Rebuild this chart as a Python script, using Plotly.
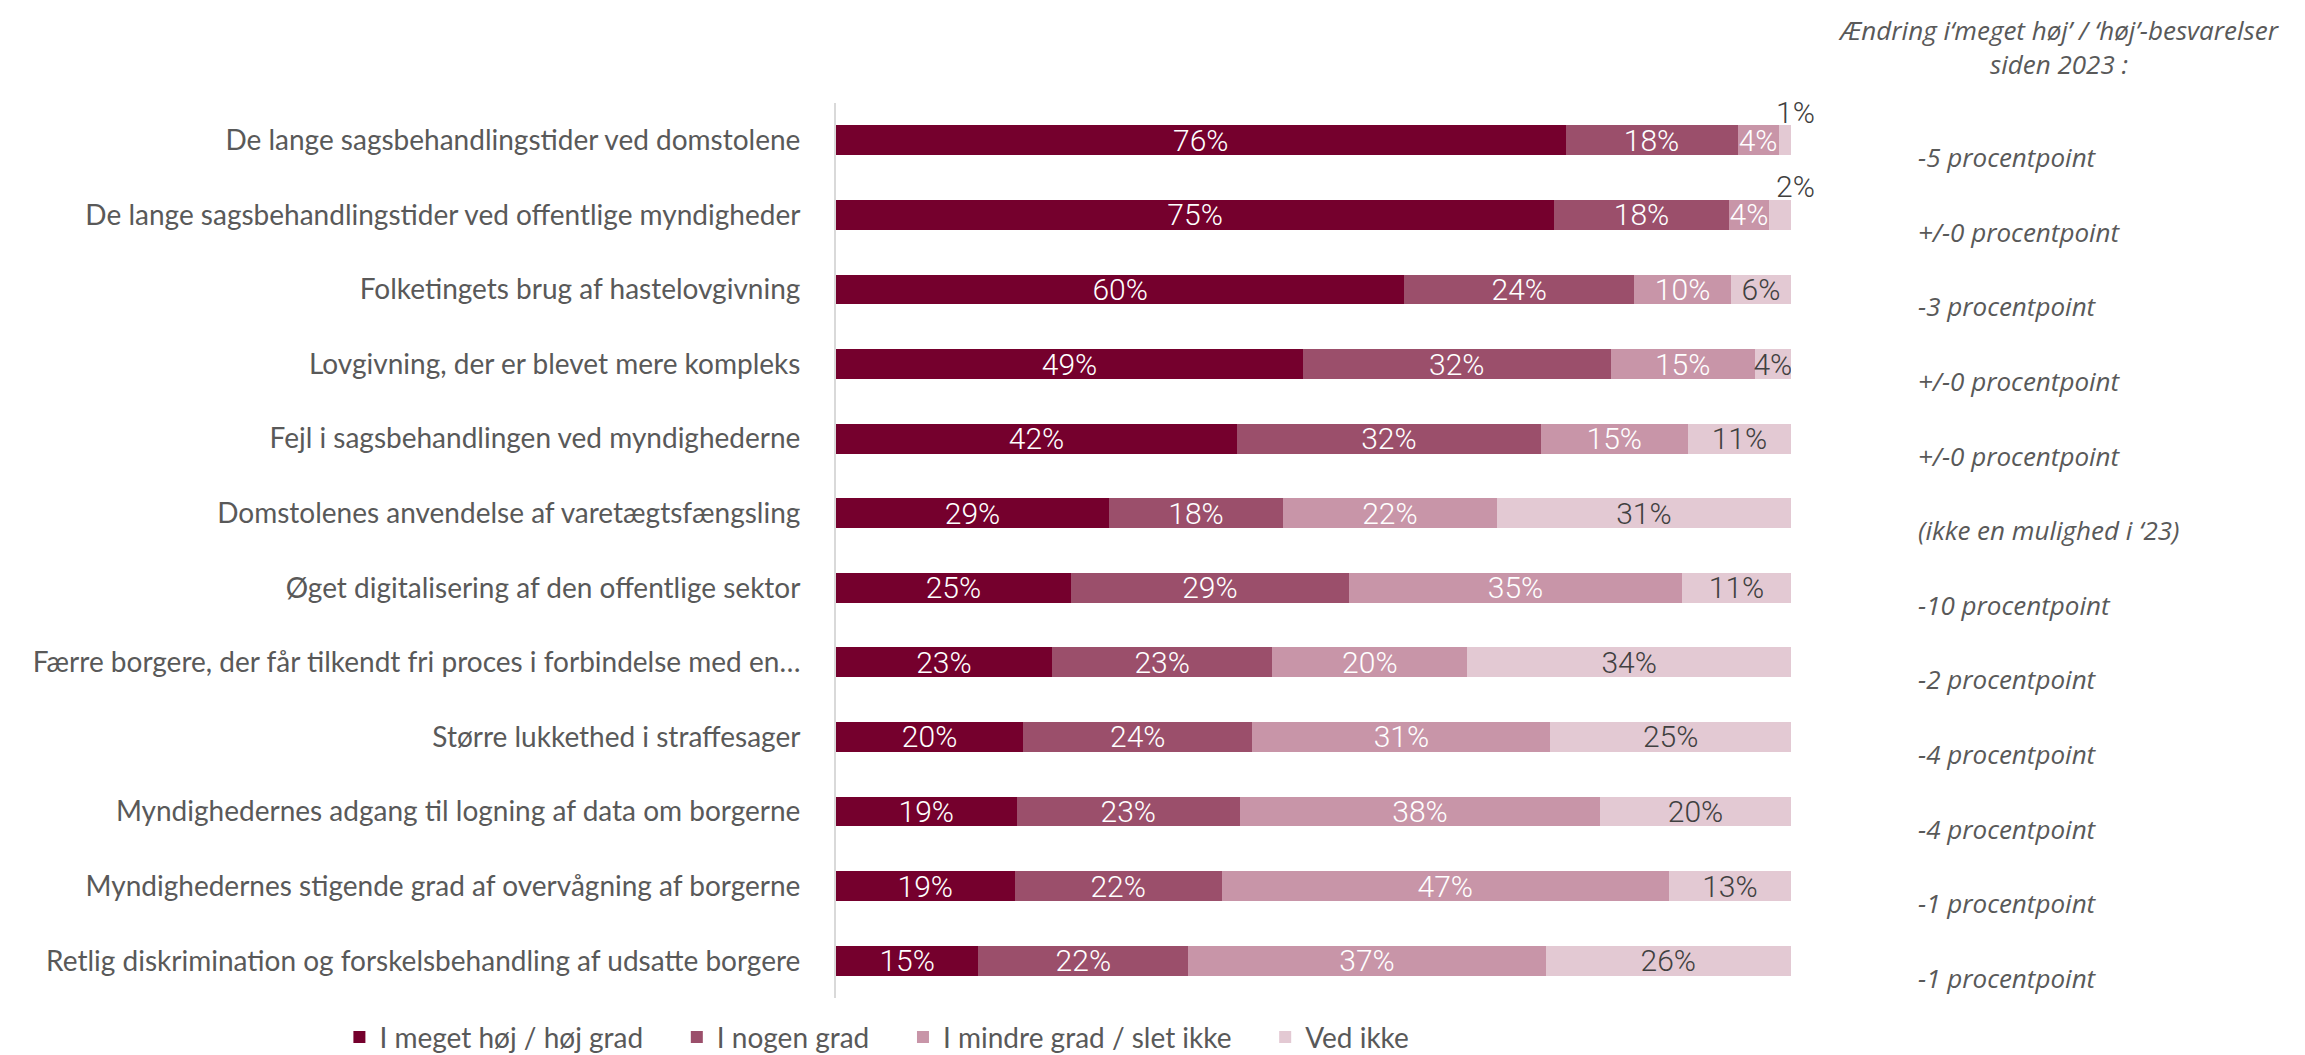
import plotly.graph_objects as go

categories = [
    "De lange sagsbehandlingstider ved domstolene",
    "De lange sagsbehandlingstider ved offentlige myndigheder",
    "Folketingets brug af hastelovgivning",
    "Lovgivning, der er blevet mere kompleks",
    "Fejl i sagsbehandlingen ved myndighederne",
    "Domstolenes anvendelse af varetægtsfængsling",
    "Øget digitalisering af den offentlige sektor",
    "Færre borgere, der får tilkendt fri proces i forbindelse med en…",
    "Større lukkethed i straffesager",
    "Myndighedernes adgang til logning af data om borgerne",
    "Myndighedernes stigende grad af overvågning af borgerne",
    "Retlig diskrimination og forskelsbehandling af udsatte borgere",
]

series_names = ["I meget høj / høj grad", "I nogen grad", "I mindre grad / slet ikke", "Ved ikke"]

hoej = [76.4, 75.2, 59.5, 48.9, 42.0, 28.6, 24.6, 22.6, 19.6, 18.9, 18.7, 14.9]
nogen = [18.0, 18.3, 24.1, 32.2, 31.8, 18.2, 29.1, 23.1, 24.0, 23.4, 21.7, 22.0]
mindre = [4.3, 4.2, 10.1, 15.1, 15.4, 22.4, 34.9, 20.4, 31.2, 37.7, 46.8, 37.4]
vedikke = [1.3, 2.3, 6.3, 3.8, 10.8, 30.8, 11.4, 33.9, 25.2, 20.0, 12.8, 25.7]

change_header = "Ændring i‘meget høj’ / ‘høj’-besvarelser<br>siden 2023 :"
change_labels = [
    "-5 procentpoint",
    "+/-0 procentpoint",
    "-3 procentpoint",
    "+/-0 procentpoint",
    "+/-0 procentpoint",
    "(ikke en mulighed i ‘23)",
    "-10 procentpoint",
    "-2 procentpoint",
    "-4 procentpoint",
    "-4 procentpoint",
    "-1 procentpoint",
    "-1 procentpoint",
]

colors = ["#75002D", "#9B4F6B", "#C895A8", "#E3C9D3"]
text_colors = ["#FFFFFF", "#FFFFFF", "#FFFFFF", "#404040"]

LABEL_FONT = "Lato, Liberation Sans, sans-serif"
BAR_FONT = "Roboto, sans-serif"
NOTE_FONT = "Open Sans, sans-serif"
GAP = "\u00a0\u00a0\u00a0\u00a0"

fig = go.Figure()
all_series = [hoej, nogen, mindre, vedikke]
small_annots = []
for i, (name, vals) in enumerate(zip(series_names, all_series)):
    texts = []
    for j, v in enumerate(vals):
        if v < 3:
            texts.append("")
            cum = sum(s[j] for s in all_series[: i + 1])
            small_annots.append((cum, categories[j], f"{v:.0f}%"))
        else:
            texts.append(f"{v:.0f}%")
    fig.add_trace(go.Bar(
        y=categories, x=vals, name=name + (GAP if i < 3 else ""), orientation="h",
        marker=dict(color=colors[i], line=dict(width=0)),
        text=texts, textposition="inside", insidetextanchor="middle",
        textangle=0, constraintext="none",
        textfont=dict(family=BAR_FONT, size=30, color=text_colors[i], weight=300),
        hoverinfo="skip",
    ))

for x, y, t in small_annots:
    fig.add_annotation(x=x, y=y, xref="x", yref="y", text=t, showarrow=False,
                       xanchor="center", yanchor="middle", yshift=28, xshift=4,
                       font=dict(family=BAR_FONT, size=30, color="#404040", weight=300))

for cat, lab in zip(categories, change_labels):
    fig.add_annotation(x=1.131, y=cat, xref="paper", yref="y", text=lab, showarrow=False,
                       xanchor="left", yanchor="middle", yshift=-17,
                       font=dict(family=NOTE_FONT, size=26, color="#595959", style="italic"))

fig.add_annotation(x=1.2806, y=1.063, xref="paper", yref="paper", text=change_header,
                   showarrow=False, xanchor="center", yanchor="middle", align="center",
                   font=dict(family=NOTE_FONT, size=26, color="#595959", style="italic"))

fig.update_layout(
    width=2305, height=1055,
    margin=dict(l=828, r=522, t=95, b=65, pad=0, autoexpand=False),
    barmode="stack", bargap=0.6,
    plot_bgcolor="white", paper_bgcolor="white",
    uniformtext=dict(minsize=30, mode="show"),
    showlegend=True,
    legend=dict(orientation="h", x=-0.52, y=-0.044, xanchor="left", yanchor="middle",
                font=dict(family=LABEL_FONT, size=28, color="#595959"),
                traceorder="normal", itemwidth=30),
    font=dict(family=LABEL_FONT, color="#595959"),
)
fig.update_xaxes(range=[0, 100], visible=False, showgrid=False, zeroline=False)
fig.update_yaxes(autorange="reversed", showline=True, linecolor="#D9D9D9", linewidth=2,
                 showgrid=False, ticks="", ticklabelstandoff=28,
                 tickfont=dict(family=LABEL_FONT, size=28, color="#595959"))

fig.write_html("out.html")
